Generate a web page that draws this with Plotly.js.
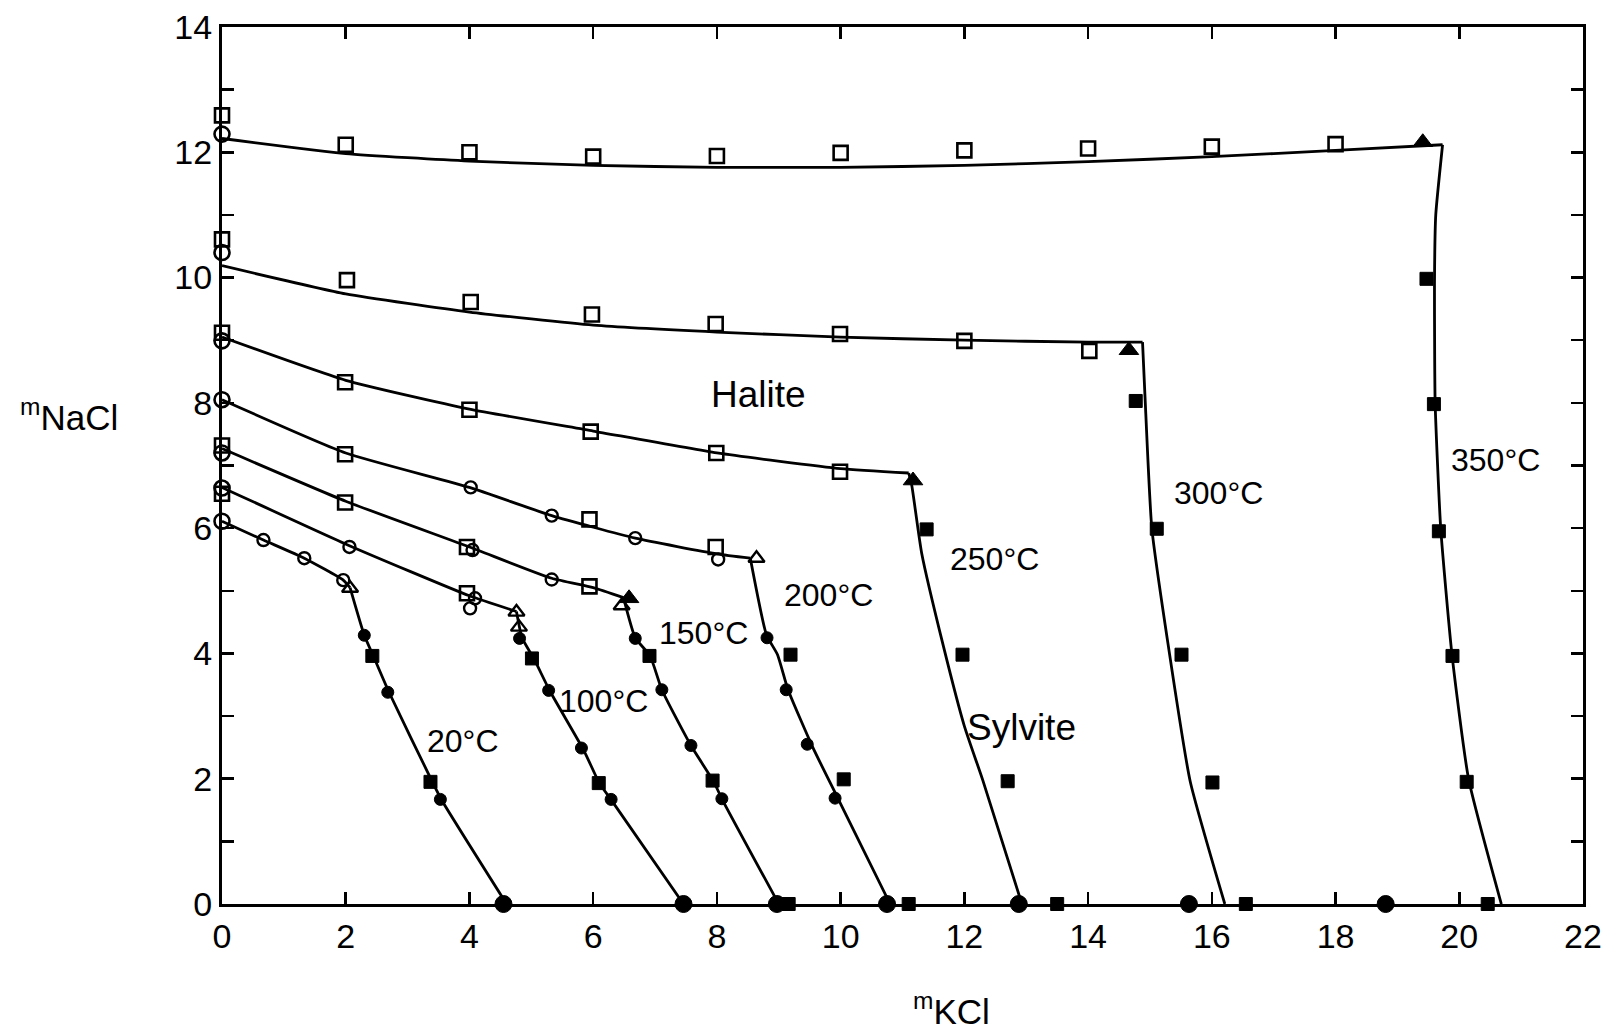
<!DOCTYPE html>
<html><head><meta charset="utf-8">
<script src="https://cdn.plot.ly/plotly-3.0.1.min.js"></script>
<style>html,body{margin:0;padding:0;background:#fff}</style>
</head><body><div id="chart" style="width:1614px;height:1033px"></div>
<script>
// ---- model curves (halite branch / sylvite branch) per temperature ----
const hal350X=[0,2,4,6,8,10,12,14,16,18,19.73];
const hal350Y=[12.22,11.98,11.86,11.79,11.76,11.76,11.79,11.85,11.93,12.03,12.12];
const syl350X=[19.73,19.62,19.6,19.61,19.7,19.88,20.15,20.68];
const syl350Y=[12.12,11,10,8,6,4,2,0];
const hal300X=[0,2,4,6,8,10,12,14,14.88];
const hal300Y=[10.19,9.74,9.45,9.24,9.13,9.05,9.0,8.97,8.97];
const syl300X=[14.88,14.92,15.03,15.3,15.65,16.21];
const syl300Y=[8.97,8.1,6.0,4.1,1.96,0];
const hal250X=[0,2,4,6,8,10,11.1];
const hal250Y=[9.05,8.36,7.9,7.55,7.2,6.95,6.88];
const syl250X=[11.1,11.15,11.31,11.66,12.0,12.3,12.93];
const syl250Y=[6.88,6.68,5.6,4.12,2.84,1.97,0];
const hal200X=[0,2,4,5.33,6.68,8.0,8.54];
const hal200Y=[8.05,7.2,6.65,6.2,5.84,5.59,5.52];
const syl200X=[8.54,8.8,8.98,9.15,9.55,9.95,10.8];
const syl200Y=[5.52,4.3,3.98,3.42,2.5,1.7,0];
const hal150X=[0,2,4,5.33,6.0,6.49];
const hal150Y=[7.27,6.43,5.7,5.2,5.05,4.89];
const syl150X=[6.49,6.68,6.92,7.11,7.58,7.95,8.08,9.0];
const syl150Y=[4.89,4.25,3.96,3.42,2.53,1.95,1.68,0];
const hal100X=[0,2.06,4.0,4.76];
const hal100Y=[6.65,5.72,4.92,4.67];
const syl100X=[4.76,4.85,5.05,5.3,5.85,6.1,6.3,7.46];
const syl100Y=[4.67,4.25,3.9,3.4,2.45,1.93,1.65,0];
const hal20X=[0,0.67,1.33,1.96,2.07];
const hal20Y=[6.11,5.81,5.52,5.17,5.05];
const syl20X=[2.07,2.3,2.45,2.7,3.4,3.55,4.6];
const syl20Y=[5.05,4.29,3.95,3.38,1.95,1.66,0];

// ---- experimental points by symbol ----
const openSqX=[0,2,4,6,8,10,12,14,16,18, 0,2.02,4.02,5.98,7.98,9.99,12,14.02, 0,1.99,4,5.96,7.99,9.99, 1.99,5.94,7.98, 0,1.99,3.96,5.94, 0,3.96];
const openSqY=[12.59,12.12,12.0,11.93,11.94,11.99,12.03,12.06,12.09,12.13, 10.61,9.96,9.61,9.41,9.26,9.1,8.99,8.83, 9.12,8.33,7.89,7.54,7.2,6.9, 7.18,6.14,5.7, 7.32,6.41,5.7,5.07, 6.55,4.96];
const naclBinX=[0,0,0,0,0,0,0];
const naclBinY=[12.29,10.4,8.99,8.05,7.2,6.64,6.11];
const openCircX=[4.02,5.33,6.68,8.02, 4.05,5.33, 2.06,4.09,4.01, 0.67,1.33,1.96];
const openCircY=[6.65,6.2,5.84,5.5, 5.65,5.18, 5.7,4.88,4.72, 5.81,5.52,5.17];
const openTriX=[2.07,4.76,4.8,6.46,8.64];
const openTriY=[5.04,4.66,4.42,4.76,5.52];
const fillTriX=[6.58,11.17,14.66,19.41];
const fillTriY=[4.88,6.76,8.84,12.16];
const fillCircX=[2.30,2.68,3.53, 4.81,5.28,5.81,6.29, 6.68,7.11,7.58,8.08, 8.81,9.12,9.46,9.91];
const fillCircY=[4.29,3.38,1.67, 4.24,3.41,2.49,1.67, 4.24,3.42,2.53,1.68, 4.25,3.42,2.55,1.69];
const kclBinX=[4.55,7.46,8.97,10.75,12.88,15.63,18.81];
const kclBinY=[0,0,0,0,0,0,0];
const fillSqX=[2.43,3.37, 5.01,6.09, 6.91,7.93,9.16, 9.19,10.05,11.1, 11.39,11.97,12.7,13.5, 14.77,15.11,15.51,16.01,16.55, 19.47,19.59,19.67,19.89,20.12,20.46];
const fillSqY=[3.96,1.95, 3.92,1.93, 3.96,1.97,0, 3.98,1.99,0, 5.98,3.98,1.96,0, 8.03,5.99,3.98,1.94,0, 9.98,7.98,5.95,3.96,1.95,0];

const tempLabels=['20°C','100°C','150°C','200°C','250°C','300°C','350°C'];
const xTicks=[0,2,4,6,8,10,12,14,16,18,20,22];
const yTicks=[0,2,4,6,8,10,12,14];

const curves=[[hal20X,hal20Y],[syl20X,syl20Y],[hal100X,hal100Y],[syl100X,syl100Y],
  [hal150X,hal150Y],[syl150X,syl150Y],[hal200X,hal200Y],[syl200X,syl200Y],
  [hal250X,hal250Y],[syl250X,syl250Y],[hal300X,hal300Y],[syl300X,syl300Y],
  [hal350X,hal350Y],[syl350X,syl350Y]];

const traces=[];
curves.forEach((c,i)=>{
  traces.push({x:c[0],y:c[1],mode:'lines',type:'scatter',showlegend:false,hoverinfo:'skip',
    line:{color:'#000',width:2.8,shape:'spline',smoothing:0.5},cliponaxis:false});
});
function pts(x,y,sym,size,lw){
  return {x:x,y:y,mode:'markers',type:'scatter',showlegend:false,cliponaxis:false,
    marker:{symbol:sym,size:size,color:'#000',line:{color:'#000',width:lw}}};
}
traces.push(pts(openSqX,openSqY,'square-open',14,2.6));
traces.push(pts(naclBinX,naclBinY,'circle-open',15,2.6));
traces.push(pts(openCircX,openCircY,'circle-open',12,2.4));
traces.push(pts(openTriX,openTriY,'triangle-up-open',14,2.4));
traces.push(pts(fillTriX,fillTriY,'triangle-up',17,1));
traces.push(pts(fillCircX,fillCircY,'circle',12,1));
traces.push(pts(kclBinX,kclBinY,'circle',17,1));
traces.push(pts(fillSqX,fillSqY,'square',13,1));

const F='Liberation Sans, Arial, sans-serif';
const tempPos=[[3.90,2.6],[6.16,3.24],[7.79,4.33],[9.81,4.94],[12.49,5.51],[16.1,6.56],[20.58,7.09]];
const ann=tempLabels.map((t,i)=>({x:tempPos[i][0],y:tempPos[i][1],xref:'x',yref:'y',text:t,showarrow:false,
  font:{family:F,size:32,color:'#000'}}));
ann.push({x:8.68,y:8.14,xref:'x',yref:'y',text:'Halite',showarrow:false,font:{family:F,size:37,color:'#000'}});
ann.push({x:12.92,y:2.81,xref:'x',yref:'y',text:'Sylvite',showarrow:false,font:{family:F,size:37,color:'#000'}});
ann.push({x:-0.15,y:0.558,xref:'paper',yref:'paper',text:'<sup>m</sup>NaCl',showarrow:false,font:{family:F,size:35,color:'#000'}});
ann.push({x:0.536,y:-0.147,xref:'paper',yref:'paper',text:'<sup>m</sup>KCl',showarrow:false,font:{family:F,size:35,color:'#000'}});

const axisCommon={showline:true,linecolor:'#000',linewidth:3,mirror:'ticks',ticks:'inside',ticklen:12,
  tickwidth:2.5,tickcolor:'#000',showgrid:false,zeroline:false,
  tickfont:{family:F,size:34,color:'#000'}};

const layout={width:1614,height:1033,paper_bgcolor:'#fff',plot_bgcolor:'#fff',
  margin:{l:222,r:31,t:27,b:129},
  xaxis:Object.assign({},axisCommon,{range:[0,22],tickvals:xTicks,ticktext:xTicks.map(String)}),
  yaxis:Object.assign({},axisCommon,{range:[0,14],tickvals:yTicks,ticktext:yTicks.map(String),
    minor:{dtick:1,ticks:'inside',ticklen:12,tickwidth:2.5,tickcolor:'#000',showgrid:false}}),
  annotations:ann,showlegend:false};

Plotly.newPlot('chart',traces,layout,{displayModeBar:false,staticPlot:true});
</script></body></html>
